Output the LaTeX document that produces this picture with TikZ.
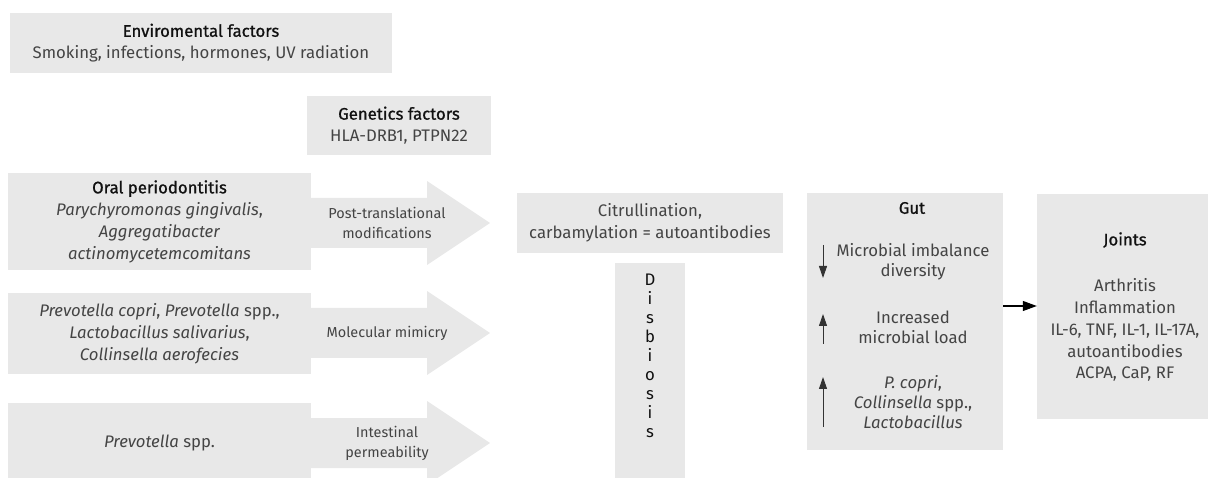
\documentclass[tikz,border=0pt]{standalone}
\usepackage{fontspec}
\setmainfont{Fira Sans}
\newfontfamily\ttlfont{Fira Sans}[FakeBold=1]
\usetikzlibrary{arrows.meta}
\definecolor{boxgray}{HTML}{E8E8E8}
\definecolor{txt}{HTML}{444444}
\definecolor{ttl}{HTML}{111111}
\newcommand{\ttlf}[1]{{\color{ttl}\ttlfont #1}}
\begin{document}
\begin{tikzpicture}[x=1bp,y=-1bp,
  box/.style={fill=boxgray, inner sep=0pt, text=txt, align=center, font=\fontsize{16.8}{22}\selectfont},
  lbl/.style={inner sep=0pt, text=txt, align=center, font=\fontsize{14.5}{20}\selectfont},
  gtxt/.style={inner sep=0pt, text=txt, align=center, font=\fontsize{16.8}{20}\selectfont},
  blockarrow/.style={fill=boxgray, draw=none},
  conn/.style={line width=1.1bp, draw=black, -{Triangle[length=14bp,width=10bp]}},
  small/.style={line width=1bp, draw=black!80, -{Triangle[length=12bp,width=8bp]}}
]
\useasboundingbox (0,0) rectangle (1208,478);

% top boxes
\node[box, minimum width=382bp, minimum height=60bp] (env) at (201,43)
  {\ttlf{Enviromental factors}\\Smoking, infections, hormones, UV radiation};
\node[box, minimum width=184bp, minimum height=59bp] (gen) at (399,125.5)
  {\ttlf{Genetics factors}\\HLA-DRB1, PTPN22};

% left boxes
\node[box, minimum width=303bp, minimum height=97bp] (oral) at (159.5,221.5)
  {\ttlf{Oral periodontitis}\\\textit{Parychyromonas gingivalis},\\\textit{Aggregatibacter}\\\textit{actinomycetemcomitans}};
\node[box, minimum width=303bp, minimum height=81bp] (prev) at (159.5,333.5)
  {\textit{Prevotella copri}, \textit{Prevotella} spp.,\\\textit{Lactobacillus salivarius},\\\textit{Collinsella aerofecies}};
\node[box, minimum width=303bp, minimum height=81bp] (prevs) at (159.5,443.5)
  {\textit{Prevotella} spp.};

% block arrows
\foreach \nd/\c in {oral/223, prev/333, prevs/443}{
  \path[blockarrow] (\nd.east |- 0,\c-25) -- (427,\c-25) -- (427,\c-42) -- (490,\c)
     -- (427,\c+42) -- (427,\c+25) -- (\nd.east |- 0,\c+25) -- cycle;
}
\node[lbl] (a1) at (387,223) {Post-translational\\modifications};
\node[lbl] (a2) at (387,333) {Molecular mimicry};
\node[lbl] (a3) at (387,443) {Intestinal\\permeability};

% middle
\node[box, minimum width=266bp, minimum height=60bp] (citr) at (650,223)
  {Citrullination,\\carbamylation = autoantibodies};
\node[box, minimum width=70bp, minimum height=226bp] (dis) at (650,376) {};
\node[inner sep=0pt, align=center, text=ttl, font=\fontsize{16.8}{19}\selectfont] (dist) at (650,356)
  {D\\i\\s\\b\\i\\o\\s\\i\\s};

% gut
\node[box, minimum width=196bp, minimum height=257bp] (gut) at (905,321.5) {};
\node[gtxt] (gutt) at (912,208) {\ttlf{Gut}};
\node[gtxt] (g1) at (913,262) {Microbial imbalance\\diversity};
\node[gtxt] (g2) at (913,327) {Increased\\microbial load};
\node[gtxt] (g3) at (913,402) {\textit{P. copri},\\\textit{Collinsella} spp.,\\\textit{Lactobacillus}};
\coordinate (d1a) at (823,245); \coordinate (d1b) at (823,278);
\coordinate (u2a) at (823,344); \coordinate (u2b) at (823,314);
\coordinate (u3a) at (823,427); \coordinate (u3b) at (823,377);
\draw[small] (d1a) -- (d1b);
\draw[small] (u2a) -- (u2b);
\draw[small] (u3a) -- (u3b);

% joints
\node[box, minimum width=176bp, minimum height=225bp] (joints) at (1125,306.5) {};
\node[gtxt] (jt) at (1125,240) {\ttlf{Joints}};
\node[box, fill=none, font=\fontsize{16.8}{22}\selectfont] (jb) at (1125,330)
  {Arthritis\\Inflammation\\IL-6, TNF, IL-1, IL-17A,\\autoantibodies\\ACPA, CaP, RF};

\coordinate (cy) at (0,306);
\draw[conn] (gut.east |- cy) -- (joints.west |- cy);
\end{tikzpicture}
\end{document}
